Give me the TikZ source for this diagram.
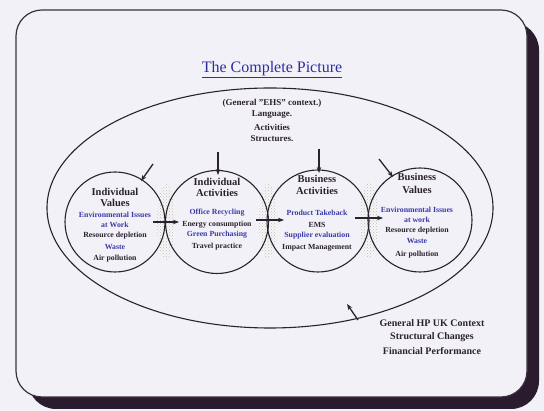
\documentclass[tikz,border=0pt]{standalone}
\usepackage{fontspec}
\setmainfont{Liberation Serif}
\usetikzlibrary{shapes.geometric,arrows.meta,patterns}
\definecolor{bgcol}{HTML}{F3F1F8}
\definecolor{framecol}{HTML}{3A3040}
\definecolor{shadowcol}{HTML}{2A1B2E}
\definecolor{itemblue}{HTML}{3A3AA8}
\definecolor{titleblue}{HTML}{2E2E9E}
\definecolor{linecol}{HTML}{2A2230}
\begin{document}
\begin{tikzpicture}[x=1pt,y=-1pt,
  head/.style={font=\fontsize{10.5}{12}\selectfont\bfseries, inner sep=0pt, text=linecol},
  item/.style={font=\fontsize{7.8}{9}\selectfont\bfseries, inner sep=0pt, text=linecol},
  bitem/.style={item, text=itemblue},
  ctx/.style={font=\fontsize{9}{10}\selectfont\bfseries, inner sep=0pt, text=linecol},
  bottomtxt/.style={font=\fontsize{10}{12}\selectfont\bfseries, inner sep=0pt, text=linecol},
  ring/.style={circle, draw=linecol, line width=1.1pt, minimum size=#1, inner sep=0pt},
  arr/.style={-{Stealth[length=6pt,width=4.5pt]}, draw=linecol, line width=1.3pt},
  stipplebg/.style={fill=white!85!gray!40},
  stipple/.style={pattern=crosshatch dots, pattern color=gray!55}
]
\useasboundingbox (0,0) rectangle (544,411);
\fill[bgcol] (0,0) rectangle (544,411);
% frame with shadow
\fill[shadowcol, rounded corners=28pt] (28,22) rectangle (539,409);
\filldraw[fill=bgcol, draw=framecol, line width=1.2pt, rounded corners=26pt] (16,10) rectangle (527,397);

% title
\node[font=\fontsize{16}{18}\selectfont, text=titleblue, inner sep=0pt] (title) at (272,70) {\underline{The Complete Picture}};

% outer ellipse
\node[ellipse, draw=linecol, line width=1.1pt, minimum width=446pt, minimum height=240pt, inner sep=0pt] (outer) at (270,208) {};

% stippled gaps
\foreach \sx/\sy in {166/222, 268/221, 369/220}{
  \fill[stipplebg] (\sx,\sy) ellipse (9 and 38);
  \fill[stipple] (\sx,\sy) ellipse (9 and 38);
}

% circles
\node[ring=100pt] (c1) at (115,222) {};
\node[ring=103pt] (c2) at (217,222) {};
\node[ring=102pt] (c3) at (318,221) {};
\node[ring=104pt] (c4) at (420,220) {};

% context text
\node[ctx] (g1) at (272,103) {(General \symbol{34}EHS\symbol{34} context.)};
\node[ctx] (g2) at (272,115) {Language.};
\node[ctx] (g3) at (272,127) {Activities};
\node[ctx] (g4) at (272,139) {Structures.};

% circle 1
\node[head] (h1a) at (115,192) {Individual};
\node[head] (h1b) at (115,203) {Values};
\node[bitem] (i1a) at (115,215) {Environmental Issues};
\node[bitem] (i1b) at (115,225) {at Work};
\node[item]  (i1c) at (115,236) {Resource depletion};
\node[bitem] (i1d) at (115,247) {Waste};
\node[item]  (i1e) at (115,259) {Air pollution};

% circle 2
\node[head] (h2a) at (217,182) {Individual};
\node[head] (h2b) at (217,193) {Activities};
\node[bitem] (i2a) at (217,213) {Office Recycling};
\node[item]  (i2b) at (217,225) {Energy consumption};
\node[bitem] (i2c) at (217,235) {Green Purchasing};
\node[item]  (i2d) at (217,247) {Travel practice};

% circle 3
\node[head] (h3a) at (317,179) {Business};
\node[head] (h3b) at (317,191) {Activities};
\node[bitem] (i3a) at (317,213) {Product Takeback};
\node[item]  (i3b) at (317,225) {EMS};
\node[bitem] (i3c) at (317,236) {Supplier evaluation};
\node[item]  (i3d) at (317,248) {Impact Management};

% circle 4
\node[head] (h4a) at (417,177) {Business};
\node[head] (h4b) at (417,190) {Values};
\node[bitem] (i4a) at (417,210) {Environmental Issues};
\node[bitem] (i4b) at (417,220) {at work};
\node[item]  (i4c) at (417,231) {Resource depletion};
\node[bitem] (i4d) at (417,241) {Waste};
\node[item]  (i4e) at (417,255) {Air pollution};

% bottom text
\node[bottomtxt] (b1) at (432,323) {General HP UK Context};
\node[bottomtxt] (b2) at (432,337) {Structural Changes};
\node[bottomtxt] (b3) at (432,351) {Financial Performance};

% arrow coordinates
\coordinate (h12s) at (153,222); \coordinate (h12e) at (179,222);
\coordinate (h23s) at (256,220); \coordinate (h23e) at (284,220);
\coordinate (h34s) at (355,218); \coordinate (h34e) at (383,218);
\coordinate (d1s) at (153,164); \coordinate (d1e) at (141,181);
\coordinate (d2s) at (218,152); \coordinate (d2e) at (218,175);
\coordinate (d3s) at (319,149); \coordinate (d3e) at (319,173);
\coordinate (d4s) at (379,159); \coordinate (d4e) at (393,177);
\coordinate (bas) at (358,320); \coordinate (bae) at (347,304);

\draw[arr] (h12s) -- (h12e);
\draw[arr] (h23s) -- (h23e);
\draw[arr] (h34s) -- (h34e);
\draw[arr] (d1s) -- (d1e);
\draw[arr] (d2s) -- (d2e);
\draw[arr] (d3s) -- (d3e);
\draw[arr] (d4s) -- (d4e);
\draw[arr] (bas) -- (bae);
\end{tikzpicture}
\end{document}
